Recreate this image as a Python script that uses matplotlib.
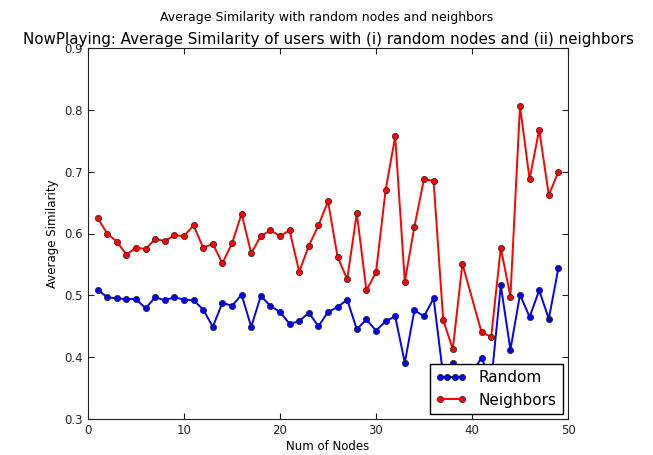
import matplotlib
matplotlib.use("Agg")
import matplotlib.pyplot as plt
from matplotlib.legend_handler import HandlerLine2D

# values
random_nodes = list(range(1, 50))
random_sim = [0.509, 0.497, 0.495, 0.494, 0.494, 0.479, 0.497, 0.492, 0.497, 0.493,
              0.492, 0.477, 0.449, 0.488, 0.483, 0.501, 0.449, 0.499, 0.483, 0.473,
              0.454, 0.458, 0.472, 0.450, 0.473, 0.481, 0.493, 0.445, 0.461, 0.443,
              0.458, 0.466, 0.391, 0.476, 0.466, 0.495, 0.370, 0.391, 0.380, 0.375,
              0.399, 0.360, 0.516, 0.412, 0.501, 0.465, 0.508, 0.462, 0.544]

neighbor_nodes = list(range(1, 40)) + list(range(41, 50))
neighbor_sim = [0.625, 0.600, 0.587, 0.566, 0.577, 0.575, 0.591, 0.588, 0.597, 0.596,
                0.613, 0.577, 0.583, 0.552, 0.584, 0.632, 0.568, 0.596, 0.605, 0.596,
                0.605, 0.538, 0.580, 0.613, 0.652, 0.562, 0.526, 0.633, 0.508, 0.537,
                0.670, 0.757, 0.522, 0.611, 0.688, 0.685, 0.460, 0.413, 0.551,
                0.440, 0.433, 0.577, 0.498, 0.806, 0.688, 0.768, 0.662, 0.700]

x_ticks = [0, 10, 20, 30, 40, 50]
y_ticks = [0.3, 0.4, 0.5, 0.6, 0.7, 0.8, 0.9]

fig = plt.figure(figsize=(6.53, 4.55), dpi=100)
ax = fig.add_axes([88 / 653, 1 - 419 / 455, 480 / 653, 371 / 455])

line_r, = ax.plot(random_nodes, random_sim, color="b", marker="o", markersize=4.5,
                  markeredgecolor="#202020", markeredgewidth=0.5, linewidth=1.4,
                  label="Random")
line_n, = ax.plot(neighbor_nodes, neighbor_sim, color="r", marker="o", markersize=4.5,
                  markeredgecolor="#202020", markeredgewidth=0.5, linewidth=1.4,
                  label="Neighbors")

ax.set_xlim(0, 50)
ax.set_ylim(0.3, 0.9)
ax.set_xticks(x_ticks)
ax.set_yticks(y_ticks)
ax.set_yticklabels([f"{v:.1f}" for v in y_ticks])
ax.tick_params(direction="in", top=True, right=True, length=4, labelsize=8.5,
               colors="#222222")
for s in ax.spines.values():
    s.set_color("#222222")

ax.set_xlabel("Num of Nodes", fontsize=8.5, labelpad=2)
ax.set_ylabel("Average Similarity", fontsize=8.5)
# the title is wider than the axes; it overlaps the top tick label as in the original
ax.set_title("NowPlaying: Average Similarity of users with (i) random nodes and (ii) neighbors",
             fontsize=10.9, pad=3)
fig.suptitle("Average Similarity with random nodes and neighbors", fontsize=9,
             y=0.975)

ax.legend(loc="lower right", fontsize=11, fancybox=False, framealpha=1,
          edgecolor="black", borderaxespad=0.35, handlelength=2.0,
          handler_map={line_r: HandlerLine2D(numpoints=4),
                       line_n: HandlerLine2D(numpoints=2)})

fig.savefig("out.png", dpi=100)
